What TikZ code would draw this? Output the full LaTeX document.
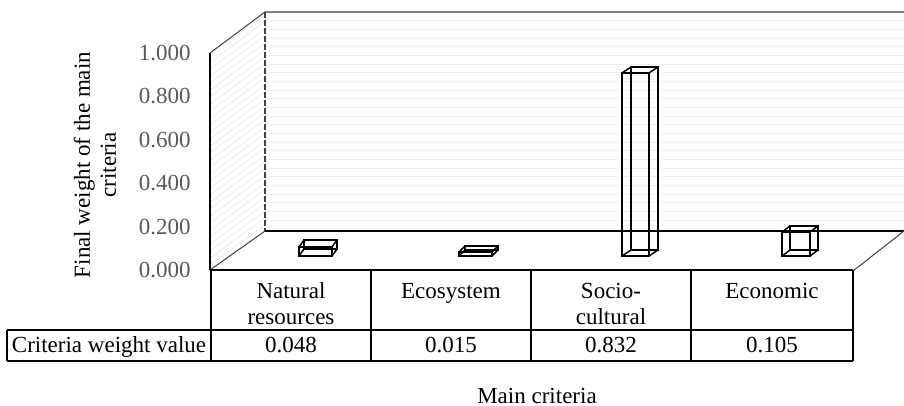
\documentclass[tikz,border=0pt]{standalone}
\usepackage{fontspec}
\setmainfont{Liberation Serif}
\newcommand{\wirebar}[5]{%
  \draw[barline] (#1,256) rectangle (#2,#3);
  \draw[barline] ({#1+#4},{256+#5}) rectangle ({#2+#4},{#3+#5});
  \draw[barline] (#1,256) -- ++(#4,#5) (#2,256) -- ++(#4,#5)
                 (#1,#3) -- ++(#4,#5) (#2,#3) -- ++(#4,#5);
}
\begin{document}
\begin{tikzpicture}[x=0.5pt,y=-0.5pt,
  font=\fontsize{11.5}{13}\selectfont,
  barline/.style={black,line width=0.75pt,line join=miter},
  edge/.style={black,line width=0.8pt},
  thinedge/.style={black!75,line width=0.5pt},
  tick/.style={anchor=east,inner sep=0pt,text=black!65},
  cell/.style={inner sep=0pt,align=center},
  pat/.style={black!7,line width=0.5pt}]
\useasboundingbox (0,0) rectangle (904,406);
% back wall pattern
\foreach \i in {1,...,24} {
  \draw[pat] (266,{12+\i*8.68}) -- (904,{12+\i*8.68});
}
% left wall hatch
\begin{scope}
  \clip (210,53) -- (265,12) -- (265,231) -- (210,270) -- cycle;
  \foreach \i in {0,...,40} {
    \draw[pat] (210,{20+\i*7}) -- (265,{-20+\i*7});
  }
\end{scope}
% walls and floor
\draw[black!50,line width=0.9pt] (265,12) -- (904,12);
\draw[black!75,line width=0.6pt,dash pattern=on 3pt off 1pt] (265,12) -- (265,231);
\draw[thinedge] (210,53) -- (265,12);
\draw[edge] (210,53) -- (210,270);
\draw[edge] (265,231) -- (904,231);
\draw[thinedge] (210,270) -- (265,231);
\draw[thinedge] (853,271) -- (904,231);
% bars
\wirebar{299}{332}{247}{5}{-7}
\wirebar{459}{492}{252}{6}{-6}
\wirebar{622}{649}{73}{9}{-6}
\wirebar{782}{810}{232}{8}{-6}
% table
\draw[edge] (210,270) -- (853,270);
\draw[edge] (211,270) -- (211,361);
\draw[edge] (371,270) -- (371,361);
\draw[edge] (531,270) -- (531,361);
\draw[edge] (691,270) -- (691,361);
\draw[edge] (853,270) -- (853,361);
\draw[edge] (7,330) -- (853,330);
\draw[edge] (7,361) -- (853,361);
\draw[edge] (7,330) -- (7,361);
% tick labels
\node[tick] (t0) at (191,270) {0.000};
\node[tick] (t2) at (191,226.6) {0.200};
\node[tick] (t4) at (191,183.2) {0.400};
\node[tick] (t6) at (191,139.8) {0.600};
\node[tick] (t8) at (191,96.4) {0.800};
\node[tick] (t10) at (191,53) {1.000};
% axis titles
\node[cell,rotate=90] (ytitle) at (95,165) {Final weight of the main\\criteria};
\node[cell] (xtitle) at (537,396) {Main criteria};
% header cells
\node[cell,anchor=base] (h1) at (291,324) {Natural\\resources};
\node[cell,anchor=base] (h2) at (451,298) {Ecosystem};
\node[cell,anchor=base] (h3) at (611,324) {Socio-\\cultural};
\node[cell,anchor=base] (h4) at (772,298) {Economic};
% value row
\node[cell,anchor=base] (rl) at (109,352) {Criteria weight value};
\node[cell,anchor=base] (v1) at (291,352) {0.048};
\node[cell,anchor=base] (v2) at (451,352) {0.015};
\node[cell,anchor=base] (v3) at (611,352) {0.832};
\node[cell,anchor=base] (v4) at (772,352) {0.105};
\end{tikzpicture}
\end{document}
